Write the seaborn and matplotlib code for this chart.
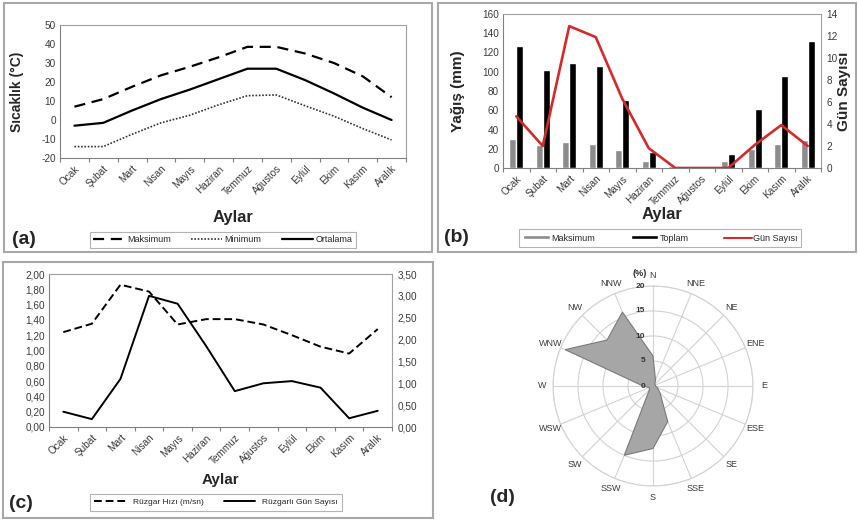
import numpy as np
import pandas as pd
import matplotlib
matplotlib.use("Agg")
import matplotlib.pyplot as plt
import matplotlib.transforms as mtransforms
import seaborn as sns
from matplotlib.patches import Rectangle, Patch
from matplotlib.lines import Line2D
from matplotlib.ticker import FuncFormatter, MultipleLocator

# Veri
aylar = ["Ocak", "Şubat", "Mart", "Nisan", "Mayıs", "Haziran",
         "Temmuz", "Ağustos", "Eylül", "Ekim", "Kasım", "Aralık"]

# (a) sıcaklık (°C)
sic_maks = [7, 11, 17.5, 23.5, 28, 33, 38.5, 38.5, 35, 30, 23, 12]
sic_min = [-14, -14, -7.5, -1.5, 2.5, 8, 12.8, 13.2, 7.5, 2, -4.5, -10.5]
sic_ort = [-3, -1.5, 5, 11, 16, 21.5, 27, 27, 21, 14, 6.5, 0]

# (b) yağış (mm) ve gün sayısı
yagis_maks = [30, 24, 27, 25, 19, 7, 2, 0, 7, 20, 25, 29]
yagis_toplam = [127, 102, 109, 106, 71, 17, 1, 0, 15, 61, 96, 132]
gun_sayisi = [4.7, 2.0, 12.9, 11.9, 6.3, 1.8, 0, 0, 0, 2.1, 3.9, 2.0]

# (c) rüzgar
ruzgar_hiz = [1.24, 1.35, 1.86, 1.77, 1.34, 1.41, 1.41, 1.34, 1.20, 1.05, 0.96, 1.28]
ruzgar_gun = [0.35, 0.18, 1.10, 3.00, 2.82, 1.85, 0.82, 1.00, 1.05, 0.90, 0.20, 0.37]

# (d) rüzgar gülü (%)
yonler = ["N", "NNE", "NE", "ENE", "E", "ESE", "SE", "SSE",
          "S", "SSW", "SW", "WSW", "W", "WNW", "NW", "NNW"]
yon_yuzde = [6, 1.3, 0.5, 0.5, 0.5, 1, 2, 7.7, 12.5, 15, 1, 0.8, 2, 19, 13, 16]

sns.set_theme(style="white")
plt.rcParams["font.family"] = ["Liberation Sans", "DejaVu Sans"]
plt.rcParams["axes.unicode_minus"] = False

W, H = 858, 522
fig = plt.figure(figsize=(W / 100, H / 100), dpi=100)


def rect(left, top, right, bottom):
    return [left / W, 1 - bottom / H, (right - left) / W, (bottom - top) / H]


def fx(x):
    return x / W


def fy(y):
    return 1 - y / H


# panel çerçeveleri
for l, t, r, b in [(4, 3, 432, 252), (438, 3, 856, 252), (3, 262, 433, 518)]:
    fig.patches.append(Rectangle((fx(l), fy(b)), fx(r) - fx(l), fy(t) - fy(b),
                                 transform=fig.transFigure, fill=False,
                                 edgecolor="#a8a8a8", lw=1.5))

TICK_C = "#3a3a3a"
FRAME_C = "#a0a0a0"
x = np.arange(12)


def style_axis(ax):
    for s in ax.spines.values():
        s.set_color(FRAME_C)
        s.set_linewidth(0.8)
    ax.spines["left"].set_color("#808080")
    ax.spines["bottom"].set_color("#808080")
    ax.set_xlim(-0.5, 11.5)
    ax.set_xticks(x)
    ax.set_xticklabels(aylar, rotation=45, ha="right", rotation_mode="anchor",
                       fontsize=7.2, color=TICK_C)
    ax.set_xticks(np.arange(-0.5, 12, 1), minor=True)
    ax.tick_params(axis="x", which="major", length=0, pad=4)
    ax.tick_params(axis="x", which="minor", length=3, width=0.8, color="#808080",
                   direction="out", bottom=True)
    ax.tick_params(axis="y", labelsize=7.2, labelcolor=TICK_C, length=0, pad=3)


def box_legend(ax, handles, labels, cx_px, cy_px, **kw):
    leg = ax.legend(handles, labels, ncol=len(labels), loc="center",
                    bbox_to_anchor=(fx(cx_px), fy(cy_px)),
                    bbox_transform=fig.transFigure, frameon=True,
                    fancybox=False, **kw)
    leg.get_frame().set_edgecolor("#a0a0a0")
    leg.get_frame().set_linewidth(0.8)
    return leg


# (a)
axa = fig.add_axes(rect(60, 25, 406, 158))
sns.lineplot(x=x, y=sic_maks, ax=axa, color="black", lw=1.6)
axa.lines[-1].set_dashes([5, 3])
sns.lineplot(x=x, y=sic_min, ax=axa, color="#333333", lw=1.2)
axa.lines[-1].set_dashes([1, 1])
sns.lineplot(x=x, y=sic_ort, ax=axa, color="black", lw=1.6)
axa.set_ylim(-20, 50)
axa.yaxis.set_major_locator(MultipleLocator(10))
style_axis(axa)
axa.set_xlabel("Aylar", fontsize=12, fontweight="bold")
axa.xaxis.set_label_coords(0.5, -0.39)
axa.set_ylabel("Sıcaklık (°C)", fontsize=10, fontweight="bold")
axa.yaxis.set_label_coords(-0.105, 0.5)
h_a = [Line2D([], [], color="black", lw=1.6, dashes=[5, 3]),
       Line2D([], [], color="#333333", lw=1.2, dashes=[1, 1]),
       Line2D([], [], color="black", lw=1.6)]
box_legend(axa, h_a, ["Maksimum", "Minimum", "Ortalama"], 223, 240,
           fontsize=6.5, handlelength=3.4, columnspacing=2.3,
           handletextpad=0.3, borderpad=0.35)
fig.text(fx(24), fy(240), "(a)", fontsize=14, fontweight="bold", ha="center", va="center")

# (b)
axb = fig.add_axes(rect(503, 14, 821, 168))
df_b = pd.DataFrame({
    "ay": aylar * 2,
    "mm": yagis_maks + yagis_toplam,
    "seri": ["Maksimum"] * 12 + ["Toplam"] * 12,
})
sns.barplot(data=df_b, x="ay", y="mm", hue="seri", order=aylar,
            palette={"Maksimum": "#8c8c8c", "Toplam": "#000000"},
            width=0.54, saturation=1, ax=axb, legend=False)
axb.set_ylim(0, 160)
axb.yaxis.set_major_locator(MultipleLocator(20))
style_axis(axb)
axb.set_xlabel("Aylar", fontsize=12, fontweight="bold")
axb.xaxis.set_label_coords(0.5, -0.25)
axb.set_ylabel("Yağış (mm)", fontsize=11, fontweight="bold")
axb.yaxis.set_label_coords(-0.12, 0.5)

axb2 = axb.twinx()
sns.lineplot(x=x, y=gun_sayisi, ax=axb2, color="#d42a2a", lw=1.9)
axb2.set_ylim(0, 14)
axb2.set_xlim(-0.5, 11.5)
axb2.yaxis.set_major_locator(MultipleLocator(2))
axb2.tick_params(axis="y", labelsize=7.2, labelcolor=TICK_C, length=0, pad=4)
for s in axb2.spines.values():
    s.set_visible(False)
axb2.set_ylabel("Gün Sayısı", fontsize=11, fontweight="bold")
axb2.yaxis.set_label_coords(1.05, 0.5)
h_b = [Patch(facecolor="#8c8c8c"), Patch(facecolor="black"),
       Line2D([], [], color="#d42a2a", lw=1.5)]
box_legend(axb, h_b, ["Maksimum", "Toplam", "Gün Sayısı"], 660, 238,
           fontsize=6.5, handlelength=3.0, handleheight=0.35,
           columnspacing=4.0, handletextpad=0.15, borderpad=0.45)
fig.text(fx(456), fy(237), "(b)", fontsize=14, fontweight="bold", ha="center", va="center")

# (c)
axc = fig.add_axes(rect(49, 274, 392, 427))
sns.lineplot(x=x, y=ruzgar_hiz, ax=axc, color="black", lw=1.4)
axc.lines[-1].set_dashes([4, 2])
axc.set_ylim(0, 2.0)
axc.yaxis.set_major_locator(MultipleLocator(0.2))
axc.yaxis.set_major_formatter(FuncFormatter(lambda v, p: f"{v:.2f}".replace(".", ",")))
style_axis(axc)
axc.set_xlabel("Aylar", fontsize=11, fontweight="bold")
axc.xaxis.set_label_coords(0.5, -0.30)
axc.set_ylabel("")

axc2 = axc.twinx()
sns.lineplot(x=x, y=ruzgar_gun, ax=axc2, color="black", lw=1.4)
axc2.set_ylim(0, 3.5)
axc2.set_xlim(-0.5, 11.5)
axc2.yaxis.set_major_locator(MultipleLocator(0.5))
axc2.yaxis.set_major_formatter(FuncFormatter(lambda v, p: f"{v:.2f}".replace(".", ",")))
axc2.tick_params(axis="y", labelsize=7.2, labelcolor=TICK_C, length=0, pad=4)
for s in axc2.spines.values():
    s.set_visible(False)
axc2.set_ylabel("")
h_c = [Line2D([], [], color="black", lw=1.4, dashes=[4, 2]),
       Line2D([], [], color="black", lw=1.4)]
box_legend(axc, h_c, ["Rüzgar Hızı (m/sn)", "Rüzgarlı Gün Sayısı"], 216, 502,
           fontsize=6, handlelength=3.8, columnspacing=2.4,
           handletextpad=0.8, borderpad=0.55)
fig.text(fx(21), fy(503), "(c)", fontsize=14, fontweight="bold", ha="center", va="center")

# (d) rüzgar gülü
cx, cy, R = 653, 386, 100
axd = fig.add_axes(rect(cx - R, cy - R, cx + R, cy + R), projection="polar")
axd.set_theta_zero_location("N")
axd.set_theta_direction(-1)
theta = np.deg2rad(np.arange(16) * 22.5)
th_c = np.append(theta, theta[0])
val_c = np.append(yon_yuzde, yon_yuzde[0])
axd.fill(th_c, val_c, facecolor="#a6a6a6", edgecolor="#7a7a7a", lw=0.8, zorder=3)
axd.set_ylim(0, 20)
axd.set_yticks([5, 10, 15, 20])
axd.set_yticklabels([])
axd.set_xticks(theta)
axd.set_xticklabels([])
axd.grid(True, color="#d2d2d2", lw=0.8)
axd.spines["polar"].set_color("#d2d2d2")
axd.spines["polar"].set_linewidth(0.8)
axd.set_facecolor("white")
for th, lab in zip(theta, yonler):
    axd.text(th, 22.2, lab, fontsize=6.5, color=TICK_C, ha="center", va="center")
off = mtransforms.offset_copy(axd.transData, fig=fig, x=-8, y=0, units="dots")
for r in [0, 5, 10, 15, 20]:
    axd.text(0, r, str(r), transform=off, fontsize=6, fontweight="bold",
             color="#333333", ha="right", va="center", zorder=5)
off2 = mtransforms.offset_copy(axd.transData, fig=fig, x=-6, y=0, units="dots")
axd.text(0, 22.6, "(%)", transform=off2, fontsize=6.5, fontweight="bold",
         color="#333333", ha="right", va="center")
fig.text(fx(502), fy(497), "(d)", fontsize=14, fontweight="bold", ha="center", va="center")

fig.savefig("out.png", dpi=100)
